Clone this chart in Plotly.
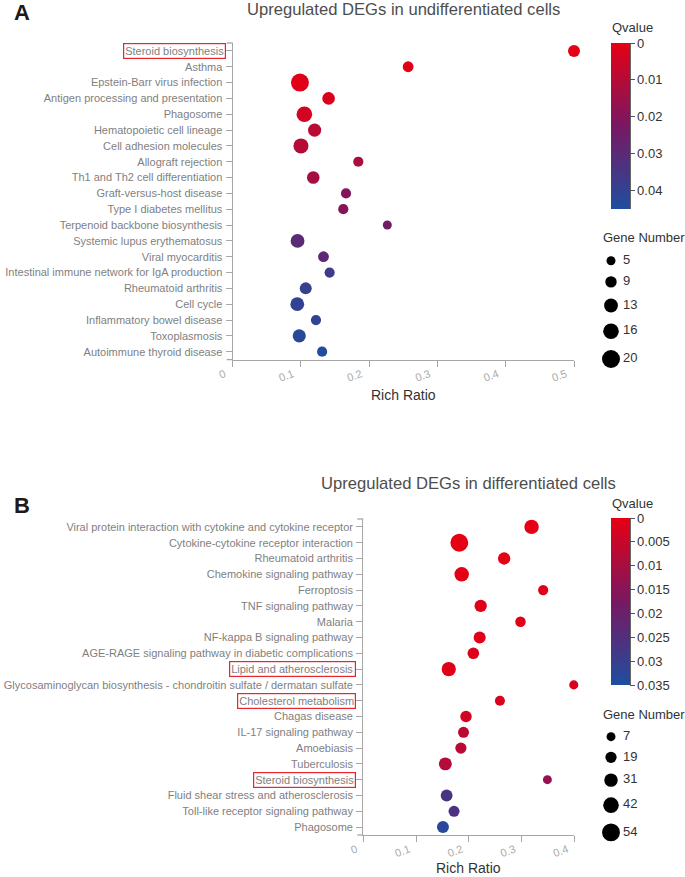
import plotly.graph_objects as go

# ---------------- data ----------------
A_terms = ["Steroid biosynthesis", "Asthma", "Epstein-Barr virus infection",
           "Antigen processing and presentation", "Phagosome", "Hematopoietic cell lineage",
           "Cell adhesion molecules", "Allograft rejection", "Th1 and Th2 cell differentiation",
           "Graft-versus-host disease", "Type I diabetes mellitus", "Terpenoid backbone biosynthesis",
           "Systemic lupus erythematosus", "Viral myocarditis",
           "Intestinal immune network for IgA production", "Rheumatoid arthritis", "Cell cycle",
           "Inflammatory bowel disease", "Toxoplasmosis", "Autoimmune thyroid disease"]
A_ratio = [0.5, 0.257, 0.0985, 0.1405, 0.105, 0.12, 0.1, 0.184, 0.118, 0.166,
           0.162, 0.2265, 0.095, 0.133, 0.142, 0.107, 0.0946, 0.122, 0.0975, 0.131]
A_genes = [10, 8, 20, 11, 16, 12, 15, 7, 11, 7, 7, 5, 13, 8, 7, 10, 13, 7, 12, 7]
A_q = [0.0005, 0.001, 0.001, 0.003, 0.004, 0.009, 0.010, 0.012, 0.013, 0.020,
       0.020, 0.024, 0.030, 0.029, 0.037, 0.039, 0.040, 0.041, 0.042, 0.044]
A_boxed = ["Steroid biosynthesis"]
A_size_legend = [5, 9, 13, 16, 20]
A_q_ticks = [0, 0.01, 0.02, 0.03, 0.04]
A_q_max = 0.045

B_terms = ["Viral protein interaction with cytokine and cytokine receptor",
           "Cytokine-cytokine receptor interaction", "Rheumatoid arthritis",
           "Chemokine signaling pathway", "Ferroptosis", "TNF signaling pathway", "Malaria",
           "NF-kappa B signaling pathway", "AGE-RAGE signaling pathway in diabetic complications",
           "Lipid and atherosclerosis",
           "Glycosaminoglycan biosynthesis - chondroitin sulfate / dermatan sulfate",
           "Cholesterol metabolism", "Chagas disease", "IL-17 signaling pathway", "Amoebiasis",
           "Tuberculosis", "Steroid biosynthesis", "Fluid shear stress and atherosclerosis",
           "Toll-like receptor signaling pathway", "Phagosome"]
B_ratio = [0.319, 0.182, 0.267, 0.1865, 0.341, 0.2225, 0.298, 0.2206, 0.2086, 0.162,
           0.399, 0.259, 0.1947, 0.19, 0.185, 0.1555, 0.349, 0.158, 0.172, 0.151]
B_genes = [36, 54, 25, 36, 14, 25, 15, 23, 21, 35, 8, 13, 20, 18, 19, 28, 7, 22, 18, 23]
B_q = [0.0002, 0.0001, 0.0005, 0.0005, 0.001, 0.001, 0.001, 0.001, 0.0015, 0.001,
       0.002, 0.002, 0.003, 0.007, 0.007, 0.008, 0.013, 0.027, 0.026, 0.033]
B_boxed = ["Lipid and atherosclerosis", "Cholesterol metabolism", "Steroid biosynthesis"]
B_size_legend = [7, 19, 31, 42, 54]
B_q_ticks = [0, 0.005, 0.01, 0.015, 0.02, 0.025, 0.03, 0.035]
B_q_max = 0.035

# ---------------- style ----------------
W, H = 685, 877
FONT = "Arial, Liberation Sans, sans-serif"
COLORSCALE = [[0, "rgb(30,78,160)"], [0.5, "rgb(120,24,98)"], [1, "rgb(230,0,20)"]]
AXIS_GRAY = "#a6a6a6"
LABEL_SIZE = 11


def px(xp):
    return xp / W


def py(yp):
    return 1 - yp / H


def size_a(g):
    return 6 + 0.6 * g


def size_b(g):
    return 7.6 + 0.19 * g


fig = go.Figure()

panels = [
    dict(terms=A_terms, ratio=A_ratio, genes=A_genes, q=A_q, qmax=A_q_max, qticks=A_q_ticks,
         sizef=size_a, legend=A_size_legend, boxed=A_boxed, xmax=0.5,
         xd=(232.7, 574.0), yd=(43.0, 359.6), cb_top=43.0, cb_len=166,
         title="Upregulated DEGs in undifferentiated cells", title_y=9, letter="A", letter_y=12,
         gene_title_y=238, leg_first=260.7, leg_gap=11.0, xtitle_y=395, xs="", ys="",
         tshift=-8),
    dict(terms=B_terms, ratio=B_ratio, genes=B_genes, q=B_q, qmax=B_q_max, qticks=B_q_ticks,
         sizef=size_b, legend=B_size_legend, boxed=B_boxed, xmax=0.4,
         xd=(363.3, 574.3), yd=(519.0, 835.0), cb_top=518.0, cb_len=167,
         title="Upregulated DEGs in differentiated cells", title_y=483, letter="B", letter_y=505,
         gene_title_y=714, leg_first=736.7, leg_gap=10.5, xtitle_y=868, xs="2", ys="2",
         tshift=-7),
]

annotations = []
shapes = []
layout_axes = {}

for i, p in enumerate(panels):
    xs, ys = p["xs"], p["ys"]
    xname = "x" + xs
    yname = "y" + ys
    n = len(p["terms"])
    fig.add_trace(go.Scatter(
        x=p["ratio"], y=p["terms"], mode="markers", xaxis=xname, yaxis=yname,
        cliponaxis=False, showlegend=False,
        marker=dict(size=[p["sizef"](g) for g in p["genes"]], sizemode="diameter",
                    color=[-q for q in p["q"]], cmin=-p["qmax"], cmax=0,
                    colorscale=COLORSCALE, line=dict(width=0), opacity=1,
                    showscale=True,
                    colorbar=dict(
                        x=px(611), xanchor="left", xpad=0, ypad=0,
                        y=py(p["cb_top"]), yanchor="top",
                        len=p["cb_len"], lenmode="pixels",
                        thickness=19, thicknessmode="pixels", outlinewidth=0,
                        ticks="outside", ticklen=5, tickcolor="#555", tickwidth=1,
                        tickvals=[-t for t in p["qticks"]],
                        ticktext=[("%g" % t) for t in p["qticks"]],
                        tickfont=dict(family=FONT, size=13, color="#333"),
                    )),
    ))
    # colorbar axis line on its right edge
    shapes.append(dict(type="line", xref="paper", yref="paper", x0=px(630.5), x1=px(630.5),
                       y0=py(p["cb_top"]), y1=py(p["cb_top"] + p["cb_len"]),
                       line=dict(color="#666", width=1)))
    # outer ticks at both ends of the y axis
    for yy in (0, 1):
        shapes.append(dict(type="line", xref=xname + " domain", yref=yname + " domain",
                           xsizemode="pixel", xanchor=0, x0=-6, x1=0, y0=yy, y1=yy,
                           line=dict(color=AXIS_GRAY, width=1.3)))
    annotations.append(dict(
        text="Qvalue", xref="paper", yref="paper", x=px(610), y=py(p["cb_top"] - 15),
        xanchor="left", yanchor="middle", showarrow=False,
        font=dict(family=FONT, size=13, color="#333")))
    layout_axes["xaxis" + xs] = dict(
        domain=[px(p["xd"][0]), px(p["xd"][1])], anchor=yname, range=[0, p["xmax"]],
        dtick=0.1, tick0=0, showgrid=False, zeroline=False, showline=True, automargin=False,
        linecolor=AXIS_GRAY, linewidth=1.3, ticks="outside", ticklen=6, tickcolor=AXIS_GRAY,
        tickangle=-20, ticklabelshift=p["tshift"], ticklabelstandoff=-3,
        tickfont=dict(family=FONT, size=11, color="#aaaaaa"),
    )
    layout_axes["yaxis" + ys] = dict(
        domain=[py(p["yd"][1]), py(p["yd"][0])], anchor=xname, type="category",
        categoryorder="array", categoryarray=p["terms"], range=[n - 0.5, -0.5],
        showgrid=False, zeroline=False, showline=True, linecolor=AXIS_GRAY, linewidth=1.3,
        automargin=False, ticks="outside", ticklen=6, tickcolor=AXIS_GRAY,
        ticklabelstandoff=1,
        tickfont=dict(family=FONT, size=LABEL_SIZE, color="#7f7f7f"),
    )
    # red boxes around highlighted labels
    for t in p["boxed"]:
        annotations.append(dict(
            text=t, xref=xname + " domain", yref=yname, x=0, y=t, xanchor="right",
            yanchor="middle", xshift=-7, showarrow=False, bgcolor="white",
            bordercolor="#e8242c", borderwidth=1.2, borderpad=1,
            font=dict(family=FONT, size=LABEL_SIZE, color="#7f7f7f")))
    # titles
    annotations.append(dict(
        text=p["title"], xref="paper", yref="paper",
        x=px((p["xd"][0] + p["xd"][1]) / 2), y=py(p["title_y"]), xanchor="center",
        yanchor="middle", showarrow=False, font=dict(family=FONT, size=16.6, color="#4d4d4d")))
    annotations.append(dict(
        text="<b>" + p["letter"] + "</b>", xref="paper", yref="paper", x=px(12),
        y=py(p["letter_y"]), xanchor="left", yanchor="middle", showarrow=False,
        font=dict(family=FONT, size=22, color="#231815")))
    annotations.append(dict(
        text="Rich Ratio", xref="paper", yref="paper",
        x=px((p["xd"][0] + p["xd"][1]) / 2), y=py(p["xtitle_y"]), xanchor="center",
        yanchor="middle", showarrow=False, font=dict(family=FONT, size=14, color="#333")))
    annotations.append(dict(
        text="Gene Number", xref="paper", yref="paper", x=px(601), y=py(p["gene_title_y"]),
        xanchor="left", yanchor="middle", showarrow=False,
        font=dict(family=FONT, size=13, color="#333")))
    # size legend (stacked by diameter)
    diam = [p["sizef"](g) for g in p["legend"]]
    ypos = [p["leg_first"]]
    for k in range(1, len(diam)):
        ypos.append(ypos[-1] + (diam[k - 1] + diam[k]) / 2 + p["leg_gap"])
    fig.add_trace(go.Scatter(
        x=[611] * len(diam), y=ypos, mode="markers", xaxis="x3", yaxis="y3",
        showlegend=False, hoverinfo="skip", cliponaxis=False,
        marker=dict(size=diam, color="black", opacity=1, line=dict(width=0))))
    fig.add_trace(go.Scatter(
        x=[623] * len(diam), y=ypos, mode="text", xaxis="x3", yaxis="y3",
        text=[str(g) for g in p["legend"]], textposition="middle right",
        showlegend=False, hoverinfo="skip", cliponaxis=False,
        textfont=dict(family=FONT, size=13, color="#333")))

layout_axes["xaxis3"] = dict(domain=[0, 1], range=[0, W], visible=False, anchor="y3",
                             fixedrange=True, automargin=False)
layout_axes["yaxis3"] = dict(domain=[0, 1], range=[H, 0], visible=False, anchor="x3",
                             fixedrange=True, automargin=False)

fig.update_layout(
    width=W, height=H, margin=dict(l=0, r=0, t=0, b=0, autoexpand=False), autosize=False,
    paper_bgcolor="white", plot_bgcolor="rgba(0,0,0,0)", showlegend=False,
    font=dict(family=FONT), annotations=annotations, shapes=shapes, **layout_axes)

fig.write_html("out.html", config={"displayModeBar": False})
